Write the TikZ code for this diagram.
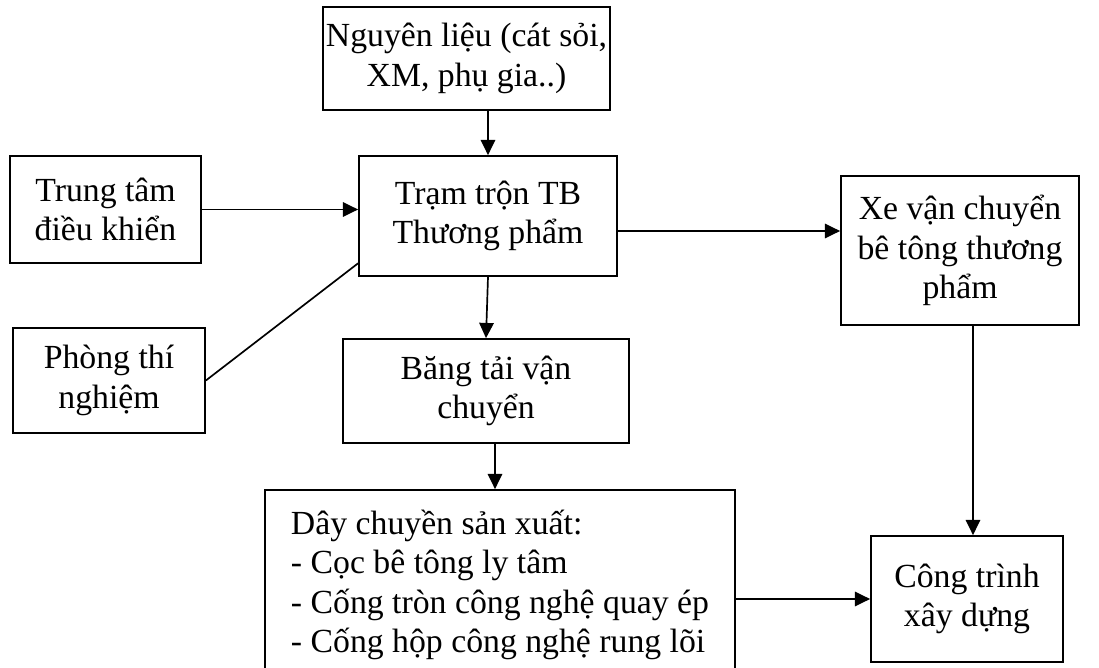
\documentclass[tikz,border=0pt]{standalone}
\usepackage{fontspec}
\setmainfont{Liberation Serif}
\usepackage{tikz}
\usetikzlibrary{arrows.meta}

\tikzset{
  box/.style={draw, line width=1.2pt, align=center, inner sep=0pt,
    font=\fontsize{24}{28}\selectfont},
}

\begin{document}
\begin{tikzpicture}[x=0.025cm, y=-0.025cm, line width=1.2pt,
    >={Triangle[length=0.38cm, width=0.36cm]}]
  \useasboundingbox (0,0) rectangle (1099,668);
  \clip (0,0) rectangle (1099,668);

  % Top: raw materials and the mixing plant
  \node[box, minimum width=7.175cm, minimum height=2.575cm] (nguyen)
    at (466.5,58.5) {Nguyên liệu (cát sỏi,\\ XM, phụ gia..)};
  \node[box, minimum width=6.45cm, minimum height=3cm] (tram)
    at (488,216) {Trạm trộn TB\\ Thương phẩm};

  % Left: control centre and laboratory
  \node[box, minimum width=4.775cm, minimum height=2.675cm] (trungtam)
    at (105.5,209.5) {Trung tâm\\ điều khiển};
  \node[box, minimum width=4.8cm, minimum height=2.625cm] (phong)
    at (109,380.5) {Phòng thí\\ nghiệm};

  % Middle: conveyor and production line
  \node[box, minimum width=7.15cm, minimum height=2.6cm] (bang)
    at (486,391) {Băng tải vận\\ chuyển};
  \node[box, align=left, minimum width=11.75cm, minimum height=4.75cm] (day)
    at (500,585) {Dây chuyền sản xuất:\\ - Cọc bê tông ly tâm\\
      - Cống tròn công nghệ quay ép\\ - Cống hộp công nghệ rung lõi};

  % Right: truck and site
  \node[box, minimum width=5.95cm, minimum height=3.725cm] (xe)
    at (960,250.5) {Xe vận chuyển\\ bê tông thương\\ phẩm};
  \node[box, minimum width=4.8cm, minimum height=3.15cm] (cong)
    at (967,599) {Công trình\\ xây dựng};

  % Connectors
  \draw[->] (tram.north |- nguyen.south) -- (tram.north);
  \draw[->] (trungtam.east) -- (trungtam.east -| tram.west);
  \draw (phong.east) -- (tram.200);
  \draw[->] (tram.south) -- (bang.north);
  \draw[->] ([yshift=-0.375cm]tram.east) -- ([yshift=-0.375cm]tram.east -| xe.west);
  \draw[->] ([xshift=0.225cm]bang.south) -- ([xshift=0.225cm]bang.south |- day.north);
  \draw[->] ([xshift=0.15cm]cong.north |- xe.south) -- ([xshift=0.15cm]cong.north);
  \draw[->] (cong.west -| day.east) -- (cong.west);
\end{tikzpicture}
\end{document}
